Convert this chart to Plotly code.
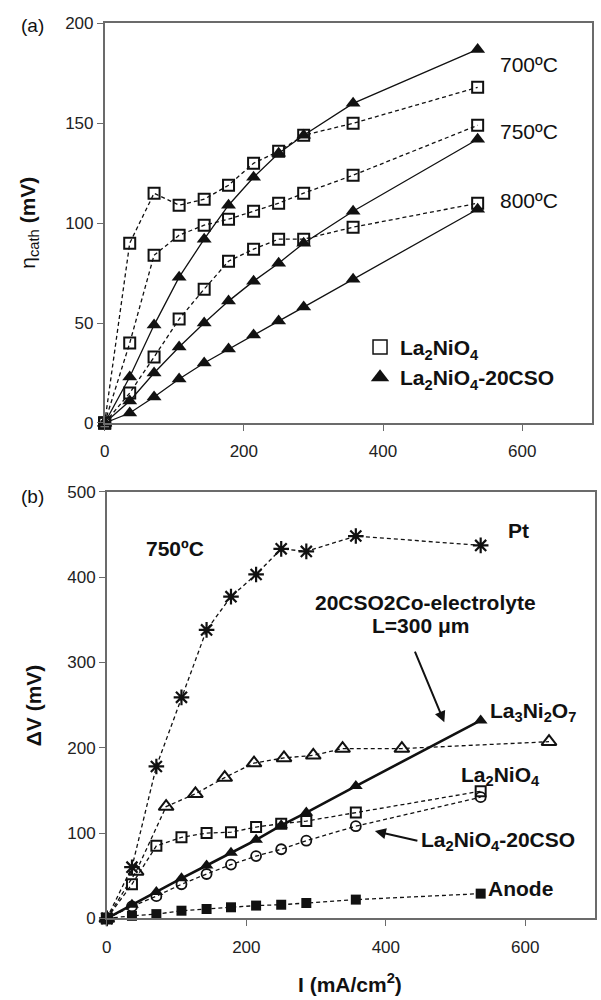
import plotly.graph_objects as go
from plotly.subplots import make_subplots

# ---- (a) cathodic overpotential vs current density ----
i_a = [0, 36, 71, 107, 143, 178, 214, 250, 286, 357, 536]
eta_ln_700 = [0, 90, 115, 109, 112, 119, 130, 136, 144, 150, 168]
eta_cso_700 = [0, 23, 49, 73, 92, 109, 123, 135, 144, 160, 187]
eta_ln_750 = [0, 40, 84, 94, 99, 102, 106, 110, 115, 124, 149]
eta_cso_750 = [0, 11, 25, 38, 50, 61, 71, 80, 90, 106, 142]
eta_ln_800 = [0, 15, 33, 52, 67, 81, 87, 92, 92, 98, 110]
eta_cso_800 = [0, 5, 13, 22, 30, 37, 44, 51, 58, 72, 107]

# ---- (b) voltage losses at 750 C ----
i_b = [0, 36, 71, 107, 143, 178, 214, 250, 286, 357, 536]
i_la3 = [0, 42, 85, 127, 169, 211, 254, 296, 338, 423, 634]
dv_pt = [0, 60, 178, 259, 338, 377, 403, 433, 430, 448, 437]
dv_la3 = [0, 55, 131, 146, 165, 182, 188, 191, 199, 199, 207]
dv_ln = [0, 40, 85, 95, 100, 101, 107, 111, 114, 124, 149]
dv_cso = [0, 14, 26, 40, 52, 63, 73, 81, 91, 108, 142]
dv_elec = [0, 16, 31, 47, 62, 77, 92, 109, 124, 155, 232]
dv_anode = [0, 3, 5, 9, 11, 13, 15, 16, 18, 22, 29]

x_ticks = [0, 200, 400, 600]
y_ticks_a = [0, 50, 100, 150, 200]
y_ticks_b = [0, 100, 200, 300, 400, 500]

W, H = 601, 1000
FONT = "Arial, Liberation Sans, sans-serif"
BLACK = "#111111"
AXIS = "#6b6b6b"
DASH = "4px,3px"


def px(x, y):
    """pixel position -> paper coordinates"""
    return x / W, 1 - y / H


fig = make_subplots(rows=2, cols=1)

sq_open = dict(symbol="square-open", size=11, color=BLACK, line=dict(width=2, color=BLACK))
tri_fill = dict(symbol="triangle-up", size=13, color=BLACK)

for ln, cso in [(eta_ln_700, eta_cso_700), (eta_ln_750, eta_cso_750), (eta_ln_800, eta_cso_800)]:
    fig.add_trace(go.Scatter(x=i_a, y=ln, mode="lines+markers", marker=sq_open,
                             line=dict(color=BLACK, width=1.3, dash=DASH),
                             showlegend=False, cliponaxis=False), row=1, col=1)
    fig.add_trace(go.Scatter(x=i_a, y=cso, mode="lines+markers", marker=tri_fill,
                             line=dict(color=BLACK, width=1.3),
                             showlegend=False, cliponaxis=False), row=1, col=1)

# legend entries for panel (a)
fig.add_trace(go.Scatter(x=[None], y=[None], mode="markers", name="La<sub>2</sub>NiO<sub>4</sub>",
                         marker=dict(symbol="square-open", size=14, color=BLACK,
                                     line=dict(width=1.5, color=BLACK))), row=1, col=1)
fig.add_trace(go.Scatter(x=[None], y=[None], mode="markers", name="La<sub>2</sub>NiO<sub>4</sub>-20CSO",
                         marker=dict(symbol="triangle-up", size=16, color=BLACK)), row=1, col=1)

# panel (b)
fig.add_trace(go.Scatter(x=i_b, y=dv_pt, mode="lines+markers",
                         marker=dict(symbol="asterisk-open", size=13, color=BLACK,
                                     line=dict(width=2.2, color=BLACK)),
                         line=dict(color=BLACK, width=1.3, dash=DASH),
                         showlegend=False, cliponaxis=False), row=2, col=1)
fig.add_trace(go.Scatter(x=i_la3, y=dv_la3, mode="lines+markers",
                         marker=dict(symbol="triangle-up-open", size=13, color=BLACK,
                                     line=dict(width=2, color=BLACK)),
                         line=dict(color=BLACK, width=1.3, dash=DASH),
                         showlegend=False, cliponaxis=False), row=2, col=1)
fig.add_trace(go.Scatter(x=i_b, y=dv_ln, mode="lines+markers",
                         marker=dict(symbol="square-open", size=10, color=BLACK,
                                     line=dict(width=2, color=BLACK)),
                         line=dict(color=BLACK, width=1.3, dash=DASH),
                         showlegend=False, cliponaxis=False), row=2, col=1)
fig.add_trace(go.Scatter(x=i_b, y=dv_cso, mode="lines+markers",
                         marker=dict(symbol="circle-open", size=10, color=BLACK,
                                     line=dict(width=1.8, color=BLACK)),
                         line=dict(color=BLACK, width=1.3, dash=DASH),
                         showlegend=False, cliponaxis=False), row=2, col=1)
fig.add_trace(go.Scatter(x=i_b, y=dv_elec, mode="lines+markers",
                         marker=dict(symbol="triangle-up", size=12, color=BLACK),
                         line=dict(color=BLACK, width=2.6),
                         showlegend=False, cliponaxis=False), row=2, col=1)
fig.add_trace(go.Scatter(x=i_b, y=dv_anode, mode="lines+markers",
                         marker=dict(symbol="square", size=10, color=BLACK),
                         line=dict(color=BLACK, width=1.3, dash=DASH),
                         showlegend=False, cliponaxis=False), row=2, col=1)

axis_common = dict(showline=True, linecolor=AXIS, linewidth=1.5, mirror=True,
                   showgrid=False, zeroline=False, ticks="outside", ticklen=6,
                   tickcolor=AXIS, tickwidth=1.3,
                   tickfont=dict(family=FONT, size=17, color="#222222"))

fig.update_xaxes(axis_common)
fig.update_yaxes(axis_common)
fig.update_xaxes(ticklabelstandoff=6)

fig.update_layout(
    width=W, height=H,
    margin=dict(l=0, r=0, t=0, b=0),
    paper_bgcolor="white", plot_bgcolor="white",
    font=dict(family=FONT, color=BLACK),
    xaxis=dict(domain=[100.5 / W, 591.7 / W], range=[0, 700], tickvals=x_ticks),
    yaxis=dict(domain=[1 - 422 / H, 1 - 14.7 / H], range=[0, 200], tickvals=y_ticks_a),
    xaxis2=dict(domain=[102.7 / W, 595 / W], range=[0, 700], tickvals=x_ticks),
    yaxis2=dict(domain=[1 - 927 / H, 1 - 492 / H], range=[0, 500], tickvals=y_ticks_b),
    legend=dict(x=px(358, 0)[0], y=px(0, 324)[1], xanchor="left", yanchor="top",
                bgcolor="rgba(0,0,0,0)", borderwidth=0, tracegroupgap=0,
                font=dict(family=FONT, size=21, color=BLACK, weight="bold")),
    showlegend=True,
)

ann = []


def label(x, y, text, size=21, bold=False, xanchor="center", angle=0):
    xp, yp = px(x, y)
    ann.append(dict(x=xp, y=yp, xref="paper", yref="paper", text=text, showarrow=False,
                    xanchor=xanchor, yanchor="middle", textangle=angle,
                    font=dict(family=FONT, size=size, color=BLACK,
                              weight="bold" if bold else "normal")))


def arrow(x0, y0, x1, y1):
    """arrow from (x0, y0) to head at (x1, y1), pixel positions"""
    xp1, yp1 = px(x1, y1)
    ann.append(dict(x=xp1, y=yp1, ax=x0 - x1, ay=y0 - y1, xref="paper", yref="paper",
                    axref="pixel", ayref="pixel", text="", showarrow=True,
                    arrowhead=2, arrowsize=1.1, arrowwidth=2, arrowcolor=BLACK))


# panel tags
label(28, 17, "(a)", size=19)
label(28, 497, "(b)", size=19)

# axis titles
label(24, 218, "η<sub>cath</sub> <b>(mV)</b>", size=21, angle=-90)
label(29, 710, "ΔV (mV)", size=21, bold=True, angle=-90)
label(348, 993, "I (mA/cm<sup>2</sup>)", size=21, bold=True)

# temperatures in (a)
label(497, 57, "700ºC", size=21, xanchor="left")
label(497, 125, "750ºC", size=21, xanchor="left")
label(497, 195, "800ºC", size=21, xanchor="left")

# labels in (b)
label(171, 550, "750ºC", bold=True)
label(518, 532, "Pt", bold=True)
label(424, 605, "20CSO2Co-electrolyte", bold=True)
label(419, 628, "L=300 μm", bold=True)
arrow(413, 655, 443, 727)
label(487, 717, "La<sub>3</sub>Ni<sub>2</sub>O<sub>7</sub>", bold=True, xanchor="left")
label(458, 782, "La<sub>2</sub>NiO<sub>4</sub>", bold=True, xanchor="left")
arrow(417, 848, 373, 838)
label(417, 848, "La<sub>2</sub>NiO<sub>4</sub>-20CSO", bold=True, xanchor="left")
label(485, 897, "Anode", bold=True, xanchor="left")

fig.update_layout(annotations=ann)

fig.write_html("out.html")
